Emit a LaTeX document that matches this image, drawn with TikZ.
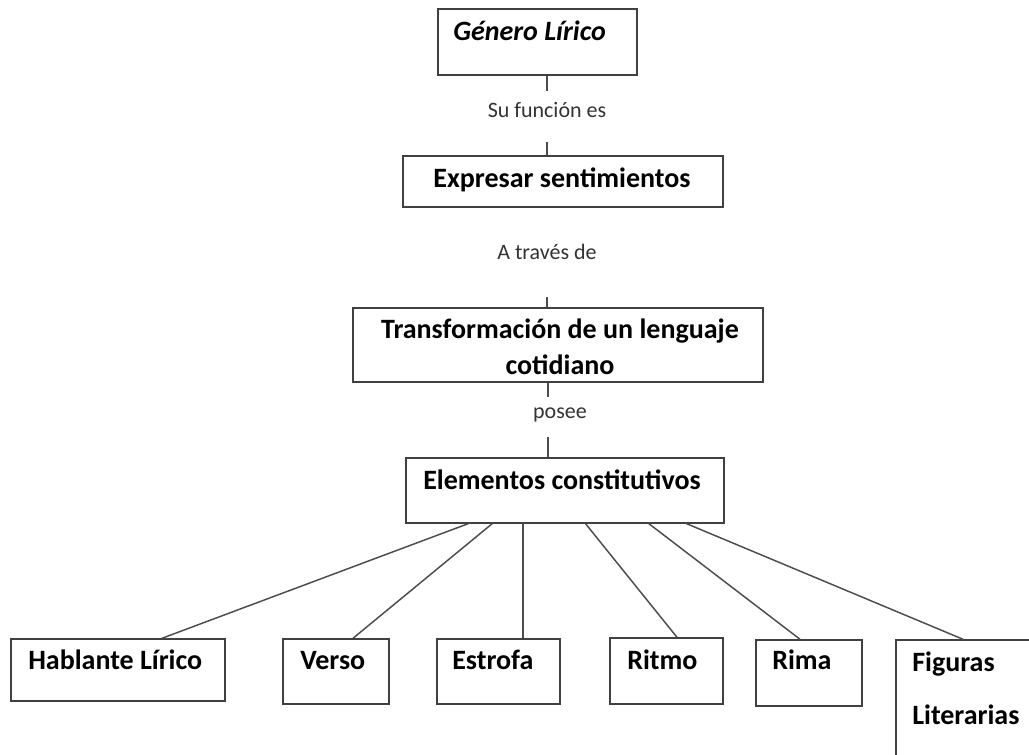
\documentclass[tikz,border=0pt]{standalone}
\usepackage{fontspec}
\setmainfont{Carlito}
\begin{document}
\begin{tikzpicture}[x=0.75pt,y=-0.75pt,
  box/.style={draw=black!75,line width=1.1pt,inner sep=0pt},
  btxt/.style={font=\fontsize{21}{24}\selectfont\bfseries,inner sep=0pt},
  ltxt/.style={font=\fontsize{16.5}{19}\selectfont,text=black!80,inner sep=0pt,anchor=base},
  conn/.style={draw=black!70,line width=1.1pt}]
\useasboundingbox (0,0) rectangle (1029,754);
\begin{scope}
\clip (0,0) rectangle (1029,754);
% boxes
\node[box,minimum width=149.25pt,minimum height=49.5pt] (gen) at (537.5,42) {};
\node[box,minimum width=240pt,minimum height=38.25pt] (expr) at (563,181.5) {};
\node[box,minimum width=307.5pt,minimum height=55.5pt] (trans) at (558,345) {};
\node[box,minimum width=238.5pt,minimum height=48.75pt] (elem) at (565,490.5) {};
\node[box,minimum width=160.5pt,minimum height=46.5pt] (hab) at (118,670) {};
\node[box,minimum width=79.5pt,minimum height=48.75pt] (verso) at (336,671.5) {};
\node[box,minimum width=92.25pt,minimum height=48.75pt] (estrofa) at (498.5,671.5) {};
\node[box,minimum width=84.75pt,minimum height=49.5pt] (ritmo) at (666.5,671) {};
\node[box,minimum width=79.5pt,minimum height=49.5pt] (rima) at (809,673) {};
\node[box,minimum width=120pt,minimum height=112.5pt] (fig) at (976,715) {};
% texts
\node[btxt,anchor=base west] (tgen) at (453,40) {\itshape Género Lírico};
\node[btxt,anchor=base] (texpr) at (562,187) {Expresar sentimientos};
\node[btxt,align=center,font=\fontsize{21}{27}\selectfont\bfseries] (ttrans) at (560,347) {Transformación de un lenguaje\\cotidiano};
\node[btxt,anchor=base] (telem) at (562,489) {Elementos constitutivos};
\node[btxt,anchor=base west] (thab) at (28,669) {Hablante Lírico};
\node[btxt,anchor=base west] (tverso) at (300,669) {Verso};
\node[btxt,anchor=base west] (testrofa) at (452,669) {Estrofa};
\node[btxt,anchor=base west] (tritmo) at (627,669) {Ritmo};
\node[btxt,anchor=base west] (trima) at (772,669) {Rima};
\node[btxt,anchor=west,align=left,font=\fontsize{21}{39.75}\selectfont\bfseries] (tfig) at (912,688) {Figuras\\Literarias};
% labels
\node[ltxt] (l1) at (547,117) {Su función es};
\node[ltxt] (l2) at (547,259) {A través de};
\node[ltxt] (l3) at (560,418) {posee};
% connector ends
\coordinate (a1) at (547,91);
\coordinate (a2) at (547,142);
\coordinate (a3) at (547,297);
\coordinate (a4) at (548,397);
\coordinate (a5) at (548,437);
\draw[conn] (gen.south -| a1) -- (a1);
\draw[conn] (a2) -- (expr.north -| a2);
\draw[conn] (a3) -- (trans.north -| a3);
\draw[conn] (trans.south -| a4) -- (a4);
\draw[conn] (a5) -- (elem.north -| a5);
% fan
\coordinate (e1) at (470,523);
\coordinate (e2) at (493,523);
\coordinate (e3) at (523,523);
\coordinate (e4) at (585,523);
\coordinate (e5) at (648,523);
\coordinate (e6) at (685,523);
\coordinate (b1) at (162,0);
\coordinate (b2) at (353,0);
\coordinate (b3) at (523,0);
\coordinate (b4) at (677,0);
\coordinate (b5) at (800,0);
\coordinate (b6) at (963,0);
\draw[conn] (e1) -- (hab.north -| b1);
\draw[conn] (e2) -- (verso.north -| b2);
\draw[conn] (e3) -- (estrofa.north -| b3);
\draw[conn] (e4) -- (ritmo.north -| b4);
\draw[conn] (e5) -- (rima.north -| b5);
\draw[conn] (e6) -- (fig.north -| b6);
\end{scope}
\end{tikzpicture}
\end{document}
